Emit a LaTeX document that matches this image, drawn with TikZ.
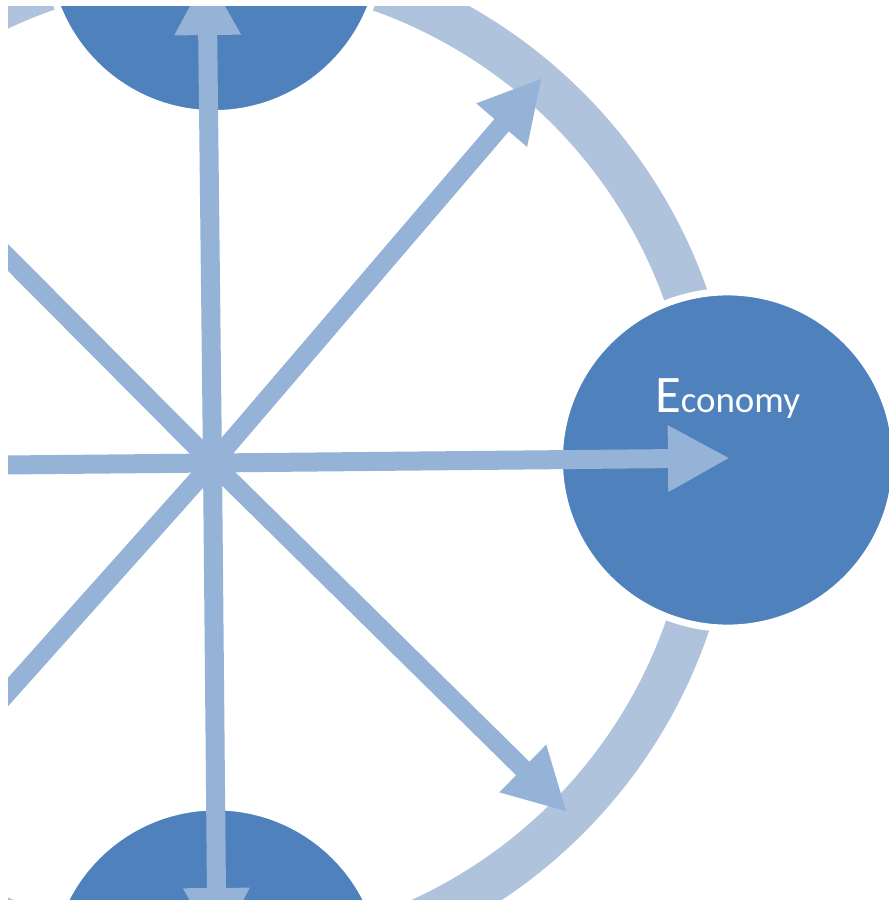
\documentclass[tikz,border=0pt]{standalone}
\usepackage{fontspec}
\setmainfont{Carlito}
\usepackage{tikz}
\usetikzlibrary{arrows.meta}
\usetikzlibrary{positioning}

\definecolor{hubblue}{RGB}{79,129,189}
\definecolor{spokeblue}{RGB}{149,179,215}
\definecolor{ringblue}{RGB}{176,195,221}

\begin{document}
\begin{tikzpicture}[x=0.01cm, y=-0.01cm,
    hub/.style={circle, fill=hubblue, draw=white, line width=0.07cm, minimum size=3.36cm, inner sep=0pt},
    spoke/.style={draw=spokeblue, line width=0.19cm},
    arrowspoke/.style={spoke, -{Triangle[width=0.62cm, length=0.62cm]}}]

    \useasboundingbox[fill=white] (0,0) rectangle (889,900);
    \clip (8,6) rectangle (889,900);

    \coordinate (c) at (212.5,463);

    % the wheel behind the hubs
    \draw[ringblue, line width=0.44cm] (c) circle[radius=502];

    \node[hub] (north) at (214,-54.5) {};
    \node[hub] (econ) at (727.5,460) {};
    \node[hub] (south) at (216,975) {};

    \coordinate (tipN) at (207,-27);
    \coordinate (tipNE) at (542,78);
    \coordinate (tipE) at (730,458);
    \coordinate (tipSE) at (567,812);
    \coordinate (tipS) at (217,950);
    \coordinate (endW) at (-100,466);
    \coordinate (endNW) at (-92,157);
    \coordinate (endSW) at (-92,804);

    \foreach \t in {tipN, tipNE, tipE, tipSE, tipS}
        \draw[arrowspoke] (c) -- (\t);
    \foreach \t in {endW, endNW, endSW}
        \draw[spoke] (c) -- (\t);

    \node[text=white, anchor=base] (econtitle) at (727.5,412)
        {{\fontsize{15}{15}\selectfont E}\fontsize{10.5}{12}\selectfont conomy};

\end{tikzpicture}
\end{document}
